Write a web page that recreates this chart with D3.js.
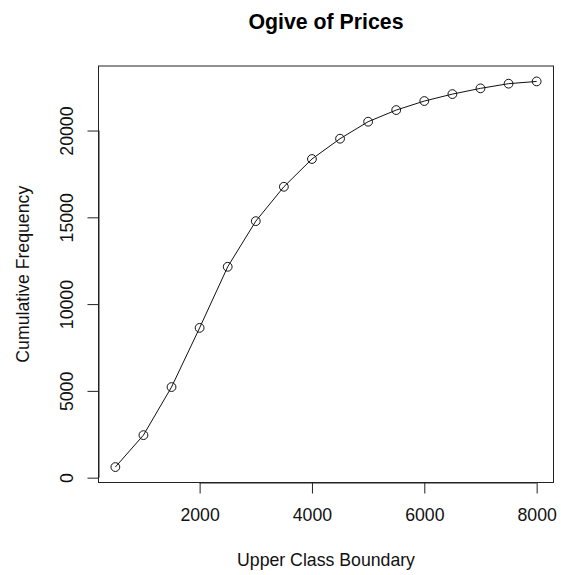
<!DOCTYPE html>
<html><head><meta charset="utf-8">
<script src="https://cdn.jsdelivr.net/npm/d3@7"></script>
<style>body{margin:0;background:#fff}svg{display:block}</style>
</head><body>
<script>
const boundaries = [500,1000,1500,2000,2500,3000,3500,4000,4500,5000,5500,6000,6500,7000,7500,8000];
const cumFreq = [610,2450,5220,8630,12150,14780,16760,18360,19530,20510,21180,21700,22100,22430,22700,22830];
const xTicks = [2000,4000,6000,8000];
const yTicks = [0,5000,10000,15000,20000];
const title = "Ogive of Prices";
const xLabel = "Upper Class Boundary";
const yLabel = "Cumulative Frequency";

const W = 561, H = 575;
const L = 98.5, R = 553.5, T = 66, B = 482.5;
const font = "'Liberation Sans', Arial, sans-serif";

const svg = d3.select("body").append("svg").attr("width", W).attr("height", H);

const xMin = d3.min(boundaries), xMax = d3.max(boundaries);
const xr = xMax - xMin;
const yMin = d3.min(cumFreq), yMax = d3.max(cumFreq);
const yrng = yMax - yMin;
const x = d3.scaleLinear().domain([xMin - 0.04*xr, xMax + 0.04*xr]).range([L, R]);
const y = d3.scaleLinear().domain([yMin - 0.04*yrng, yMax + 0.04*yrng]).range([B, T]);

// box
svg.append("rect").attr("x", L).attr("y", T).attr("width", R - L).attr("height", B - T)
  .attr("fill", "none").attr("stroke", "#222").attr("stroke-width", 1);

// x axis
const xAxis = d3.axisBottom(x).tickValues(xTicks).tickSize(11).tickPadding(15).tickFormat(d3.format("d"));
const gx = svg.append("g").attr("transform", `translate(0,${B})`).call(xAxis);
gx.select(".domain").attr("d", `M${x(xTicks[0])},0.5H${x(xTicks[xTicks.length-1])}`).attr("stroke", "#222");
gx.selectAll(".tick line").attr("stroke", "#222");
gx.selectAll(".tick text").attr("font-family", font).attr("font-size", 17.7).attr("fill", "#111");

// y axis
const yAxis = d3.axisLeft(y).tickValues(yTicks).tickSize(11).tickPadding(0).tickFormat(d3.format("d"));
const gy = svg.append("g").attr("transform", `translate(${L},0)`).call(yAxis);
gy.select(".domain").attr("d", `M0.5,${y(yTicks[0])}V${y(yTicks[yTicks.length-1])}`).attr("stroke", "#222");
gy.selectAll(".tick line").attr("stroke", "#222");
gy.selectAll(".tick text")
  .attr("font-family", font).attr("font-size", 17.7).attr("fill", "#111")
  .attr("x", null).attr("dy", null)
  .attr("text-anchor", "middle")
  .attr("transform", `translate(${73 - L},0) rotate(-90)`);

// line
const line = d3.line().x((d, i) => x(boundaries[i])).y(d => y(d));
svg.append("path").datum(cumFreq).attr("d", line)
  .attr("fill", "none").attr("stroke", "#111").attr("stroke-width", 1);

// points
svg.append("g").selectAll("circle").data(cumFreq).join("circle")
  .attr("cx", (d, i) => x(boundaries[i])).attr("cy", d => y(d)).attr("r", 4.4)
  .attr("fill", "none").attr("stroke", "#111").attr("stroke-width", 1);

// titles
svg.append("text").attr("x", (L + R) / 2).attr("y", 29).attr("text-anchor", "middle")
  .attr("font-family", font).attr("font-weight", "bold").attr("font-size", 21.3).attr("fill", "#000")
  .text(title);
svg.append("text").attr("x", (L + R) / 2).attr("y", 566).attr("text-anchor", "middle")
  .attr("font-family", font).attr("font-size", 17.7).attr("fill", "#111")
  .text(xLabel);
svg.append("text").attr("transform", `translate(29,${(T + B) / 2}) rotate(-90)`).attr("text-anchor", "middle")
  .attr("font-family", font).attr("font-size", 17.7).attr("fill", "#111")
  .text(yLabel);
</script>
</body></html>
